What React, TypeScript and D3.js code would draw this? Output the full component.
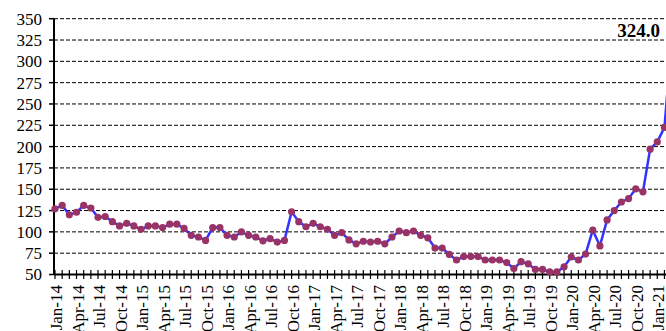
import React from "react";
import * as d3 from "d3";

const MONTHS = ["Jan","Feb","Mar","Apr","May","Jun","Jul","Aug","Sep","Oct","Nov","Dec"];
const YEARS = ["14","15","16","17","18","19","20","21"];

const categories: string[] = [];
YEARS.forEach((y) => MONTHS.forEach((m) => categories.push(`${m}-${y}`)));
const monthLabels = categories.slice(0, 87);

const values: number[] = [
  127, 131, 120, 123, 131, 128, 117, 118, 112, 107, 110, 107,
  103, 107, 107, 105, 109, 109, 104, 96, 94, 90, 105, 105,
  96, 94, 100, 96, 94, 89.5, 92, 88, 90, 123.5, 112, 106,
  110, 106, 103, 96, 99, 90.5, 86, 89, 88, 89, 86, 94,
  101, 99, 101, 96, 93, 81, 81, 73.5, 67, 71, 71, 71,
  67, 67, 67, 64, 57, 65, 62.5, 56, 56, 53, 53, 59,
  70.5, 67, 74, 102, 83.5, 114, 125, 135, 139, 150.5, 147, 197,
  205.5, 222.5, 324,
];

const yTicks = [50, 75, 100, 125, 150, 175, 200, 225, 250, 275, 300, 325, 350];
const lastLabel = "324.0";

const W = 666;
const H = 331;
const LEFT = 54;

export default function App() {
  const x = d3.scaleLinear().domain([0, 86]).range([55, 55 + 86 * 7.17]);
  const y = d3.scaleLinear().domain([50, 350]).range([274.5, 18.7]);
  const line = d3
    .line<number>()
    .x((_, i) => x(i))
    .y((d) => y(d));

  const tickIdx = monthLabels.map((_, i) => i);
  const labelIdx = tickIdx.filter((i) => i % 3 === 0);

  return (
    <svg
      width={W}
      height={H}
      style={{ position: "absolute", left: 0, top: 0, background: "#fff" }}
      fontFamily="'Liberation Serif', 'Times New Roman', serif"
    >
      <rect width={W} height={H} fill="#fff" />
      {yTicks.map((t) => (
        <g key={t}>
          {t > 50 && (
            <line
              x1={LEFT}
              x2={W}
              y1={y(t)}
              y2={y(t)}
              stroke="#000"
              strokeWidth={1}
              strokeDasharray="4,2"
            />
          )}
          <line x1={LEFT - 5} x2={LEFT} y1={y(t)} y2={y(t)} stroke="#000" strokeWidth={1.5} />
          <text x={42} y={y(t)} dy="0.35em" textAnchor="end" fontSize={17} fill="#000">
            {t}
          </text>
        </g>
      ))}
      {tickIdx.map((i) => (
        <line key={i} x1={x(i)} x2={x(i)} y1={270} y2={279} stroke="#000" strokeWidth={1.2} />
      ))}
      <line x1={LEFT} x2={W} y1={y(50)} y2={y(50)} stroke="#000" strokeWidth={2} />
      <line x1={LEFT} x2={LEFT} y1={y(350)} y2={y(50)} stroke="#000" strokeWidth={2} />
      {labelIdx.map((i) => (
        <text
          key={i}
          transform={`translate(${x(i) + 7},285) rotate(-90)`}
          textAnchor="end"
          fontSize={17}
          fill="#000"
        >
          {monthLabels[i]}
        </text>
      ))}
      <path d={line(values) || ""} fill="none" stroke="#3333ff" strokeWidth={2.5} />
      {values.map((v, i) => (
        <circle key={i} cx={x(i)} cy={y(v)} r={3.6} fill="#993366" />
      ))}
      <text x={660} y={37} textAnchor="end" fontSize={19} fontWeight="bold" fill="#000">
        {lastLabel}
      </text>
    </svg>
  );
}
